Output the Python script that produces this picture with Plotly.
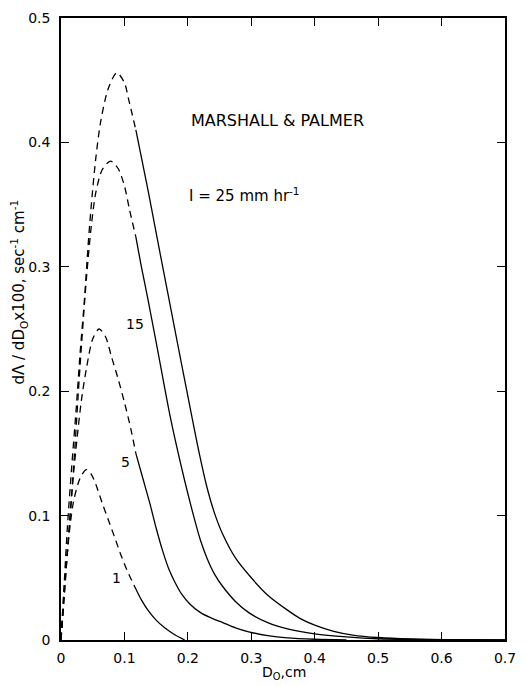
import plotly.graph_objects as go

# ---- data ----
SPLIT_D = 0.118  # dashed for D <= SPLIT_D, solid beyond

d_25 = [0, 0.005, 0.01, 0.017, 0.024, 0.03, 0.037, 0.042, 0.047, 0.055, 0.063, 0.075, 0.088, 0.1, 0.106, 0.118,
        0.137, 0.152, 0.171, 0.19, 0.205, 0.218, 0.23, 0.242, 0.255, 0.275, 0.3, 0.326, 0.357, 0.378, 0.4, 0.43,
        0.46, 0.5, 0.55, 0.62, 0.7]
y_25 = [0, 0.045, 0.09, 0.14, 0.186, 0.23, 0.274, 0.312, 0.345, 0.388, 0.418, 0.444, 0.456, 0.448, 0.436, 0.41,
        0.362, 0.322, 0.272, 0.222, 0.183, 0.15, 0.123, 0.102, 0.085, 0.066, 0.05, 0.036, 0.024, 0.017, 0.012, 0.007,
        0.004, 0.002, 0.0008, 0.0002, 0]

d_15 = [0, 0.005, 0.01, 0.02, 0.03, 0.04, 0.048, 0.055, 0.065, 0.078, 0.09, 0.1, 0.108, 0.118,
        0.126, 0.137, 0.152, 0.172, 0.195, 0.21, 0.22, 0.23, 0.242, 0.255, 0.275, 0.296, 0.326, 0.357, 0.4,
        0.45, 0.5, 0.6, 0.7]
y_15 = [0, 0.035, 0.07, 0.14, 0.22, 0.29, 0.334, 0.36, 0.378, 0.385, 0.379, 0.365, 0.346, 0.324,
        0.302, 0.274, 0.234, 0.18, 0.128, 0.098, 0.08, 0.066, 0.053, 0.043, 0.031, 0.022, 0.014, 0.009, 0.005,
        0.0025, 0.001, 0.0002, 0]

d_5 = [0, 0.005, 0.01, 0.02, 0.032, 0.04, 0.05, 0.06, 0.07, 0.08, 0.09, 0.1, 0.11, 0.118,
       0.129, 0.14, 0.15, 0.16, 0.17, 0.18, 0.19, 0.203, 0.22, 0.24, 0.255, 0.275, 0.296, 0.326, 0.357, 0.4, 0.45]
y_5 = [0, 0.035, 0.07, 0.135, 0.192, 0.218, 0.242, 0.25, 0.244, 0.227, 0.21, 0.191, 0.17, 0.15,
       0.13, 0.11, 0.09, 0.072, 0.057, 0.046, 0.037, 0.029, 0.022, 0.017, 0.014, 0.0098, 0.0066, 0.0035, 0.0017,
       0.0006, 0]

d_1 = [0, 0.005, 0.01, 0.015, 0.02, 0.03, 0.04, 0.048, 0.055, 0.065, 0.075, 0.085, 0.094, 0.105, 0.118,
       0.127, 0.137, 0.15, 0.163, 0.18, 0.195]
y_1 = [0, 0.04, 0.07, 0.095, 0.112, 0.13, 0.137, 0.133, 0.125, 0.11, 0.096, 0.082, 0.069, 0.055, 0.041,
       0.032, 0.024, 0.016, 0.01, 0.004, 0]

curve_labels = ["15", "5", "1"]
label_d = [0.117, 0.102, 0.088]
label_y = [0.254, 0.143, 0.05]

x_ticks = [0, 0.1, 0.2, 0.3, 0.4, 0.5, 0.6, 0.7]
x_ticktext = ["0", "0.1", "0.2", "0.3", "0.4", "0.5", "0.6", "0.7"]
y_ticks = [0, 0.1, 0.2, 0.3, 0.4, 0.5]
y_ticktext = ["0", "0.1", "0.2", "0.3", "0.4", "0.5"]

FONT = "DejaVu Sans"

fig = go.Figure()
for d, y in [(d_25, y_25), (d_15, y_15), (d_5, y_5), (d_1, y_1)]:
    dash_x = [a for a in d if a <= SPLIT_D]
    dash_y = [b for a, b in zip(d, y) if a <= SPLIT_D]
    sol_x = [a for a in d if a >= SPLIT_D]
    sol_y = [b for a, b in zip(d, y) if a >= SPLIT_D]
    fig.add_trace(go.Scatter(x=dash_x, y=dash_y, mode="lines",
                             line=dict(color="black", width=1.3, dash="7px,5px", shape="spline", smoothing=0.8),
                             showlegend=False, hoverinfo="skip"))
    fig.add_trace(go.Scatter(x=sol_x, y=sol_y, mode="lines",
                             line=dict(color="black", width=1.3, shape="spline", smoothing=0.8),
                             showlegend=False, hoverinfo="skip"))

for t, xd, yd in zip(curve_labels, label_d, label_y):
    fig.add_annotation(x=xd, y=yd, text=t, showarrow=False,
                       font=dict(family=FONT, size=14, color="black"))

fig.add_annotation(x=0.202, y=0.418, text="MARSHALL & PALMER", showarrow=False, xanchor="left",
                   font=dict(family=FONT, size=16, color="black"))
fig.add_annotation(x=0.198, y=0.358, text="I = 25 mm hr<sup>-1</sup>", showarrow=False, xanchor="left",
                   font=dict(family=FONT, size=15, color="black"))

fig.add_annotation(xref="paper", yref="paper", x=-0.095, y=0.56, textangle=-90,
                   xanchor="center", yanchor="middle",
                   text="dΛ / dD<sub>O</sub>x100, sec<sup>-1</sup> cm<sup>-1</sup>", showarrow=False,
                   font=dict(family=FONT, size=15, color="black"))
fig.add_annotation(xref="paper", yref="paper", x=0.503, y=-0.053, yanchor="middle",
                   text="D<sub>O</sub>,cm", showarrow=False,
                   font=dict(family=FONT, size=14, color="black"))

axis_common = dict(showgrid=False, zeroline=False, showline=True, linecolor="black", linewidth=1.5,
                   ticks="inside", ticklen=8, tickwidth=1.2, tickcolor="black",
                   tickfont=dict(family=FONT, size=14, color="black"))
fig.update_xaxes(range=[0, 0.7], tickvals=x_ticks, ticktext=x_ticktext, mirror="ticks",
                 ticklabelstandoff=4, **axis_common)
fig.update_yaxes(range=[0, 0.5], tickvals=y_ticks, ticktext=y_ticktext, mirror="ticks",
                 ticklabelstandoff=6, **axis_common)

fig.update_layout(width=526, height=686, margin=dict(l=61, r=10, t=15, b=46),
                  paper_bgcolor="white", plot_bgcolor="white")

fig.write_html("out.html")
